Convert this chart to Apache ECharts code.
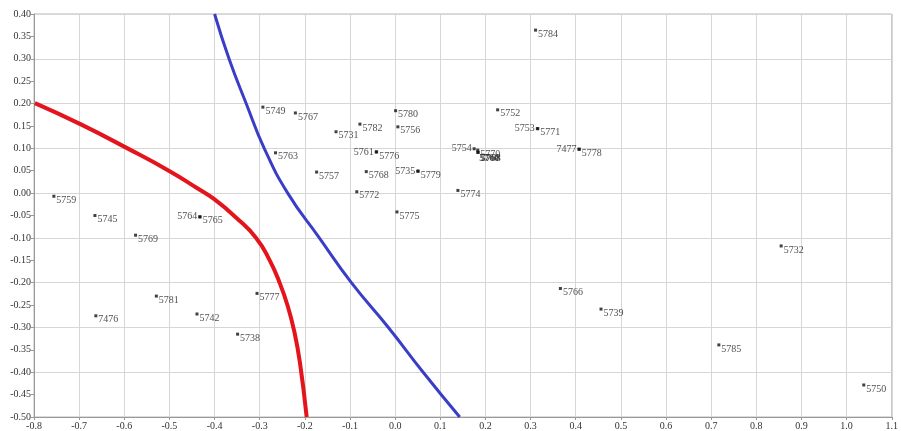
<!DOCTYPE html>
<html><head><meta charset="utf-8">
<script src="https://cdn.jsdelivr.net/npm/echarts@6/dist/echarts.min.js"></script>
<style>html,body{margin:0;padding:0;background:#fff}#c{width:901px;height:431px}</style>
</head><body><div id="c"></div>
<script>
// Scatter points
const pointNames = ['5784','5749','5767','5763','5731','5782','5780','5756','5761','5776','5757','5768','5735','5779','5772','5775','5774','5754','5770','5760','5768','5752','5753','5771','7477','5778','5759','5745','5764','5765','5769','5781','5777','7476','5742','5738','5766','5739','5732','5785','5750'];
const pointX = [0.311,-0.293,-0.221,-0.265,-0.131,-0.078,0.001,0.006,-0.042,-0.041,-0.174,-0.064,0.050,0.051,-0.085,0.004,0.139,0.175,0.183,0.183,0.184,0.227,0.315,0.316,0.407,0.408,-0.756,-0.665,-0.433,-0.432,-0.575,-0.529,-0.306,-0.663,-0.439,-0.349,0.366,0.456,0.855,0.717,1.038];
const pointY = [0.364,0.192,0.179,0.090,0.137,0.154,0.184,0.148,0.092,0.092,0.047,0.048,0.049,0.049,0.003,-0.042,0.006,0.099,0.096,0.091,0.091,0.186,0.144,0.144,0.098,0.098,-0.007,-0.050,-0.053,-0.053,-0.094,-0.230,-0.224,-0.274,-0.270,-0.315,-0.213,-0.259,-0.118,-0.339,-0.4285];
const labelSide = ['r','r','r','r','r','r','r','r','l','r','r','r','l','r','r','r','r','l','r','r','r','r','l','r','l','r','r','r','l','r','r','r','r','r','r','r','r','r','r','r','r'];

// Curves
const redX = [-0.798,-0.695,-0.595,-0.4995,-0.440,-0.400,-0.352,-0.308,-0.279,-0.256,-0.238,-0.223,-0.211,-0.196];
const redY = [0.201,0.153,0.101,0.049,0.012,-0.014,-0.055,-0.100,-0.148,-0.200,-0.252,-0.311,-0.378,-0.5];
const blueX = [-0.400,-0.368,-0.330,-0.290,-0.238,-0.168,-0.097,-0.015,0.062,0.143];
const blueY = [0.40,0.30,0.20,0.10,0.0,-0.10,-0.20,-0.30,-0.40,-0.50];

const font = 'Liberation Serif';
const scatterData = pointNames.map((n,i)=>{
  const left = labelSide[i]==='l';
  const extra = (n==='5760'||(n==='5768'&&i===20));
  return {
    value:[pointX[i],pointY[i]], name:n,
    label: left ? {position:'left', distance:1, offset:[0,0]} :
           (extra ? {position:'right', distance:0, offset:[i===20?1:0,6], fontWeight:'bold'} : {position:'right', distance:1, offset:[0,4]})
  };
});

const chart = echarts.init(document.getElementById('c'), null, {renderer:'canvas'});
chart.setOption({
  animation:false,
  backgroundColor:'#fff',
  grid:{left:34,right:7,top:14,bottom:13,show:true,borderColor:'#b8b8b8',borderWidth:1},
  xAxis:{type:'value',min:-0.8,max:1.1,interval:0.1,
    axisLine:{show:true,onZero:false,lineStyle:{color:'#999',width:1}},
    axisTick:{show:true,length:3,lineStyle:{color:'#999'}},
    axisLabel:{fontFamily:font,fontSize:10,color:'#333',margin:4,formatter:v=>v.toFixed(1),showMinLabel:true,showMaxLabel:true},
    splitLine:{show:true,lineStyle:{color:'#d6d6d6',width:1}}},
  yAxis:{type:'value',min:-0.5,max:0.4,interval:0.05,
    axisLine:{show:true,onZero:false,lineStyle:{color:'#999',width:1}},
    axisTick:{show:true,length:3,lineStyle:{color:'#999'}},
    axisLabel:{fontFamily:font,fontSize:10,color:'#333',margin:3,formatter:v=>v.toFixed(2),showMinLabel:true,showMaxLabel:true},
    splitLine:{show:true,lineStyle:{color:['#d6d6d6','rgba(0,0,0,0)'],width:1}}},
  series:[
    {type:'line',data:redX.map((x,i)=>[x,redY[i]]),smooth:0.5,showSymbol:false,
     lineStyle:{color:'#e3141c',width:4},z:3},
    {type:'line',data:blueX.map((x,i)=>[x,blueY[i]]),smooth:0.5,showSymbol:false,
     lineStyle:{color:'#3a3ec6',width:3},z:3},
    {type:'scatter',data:scatterData,symbol:'rect',symbolSize:3,
     itemStyle:{color:'#111'},z:4,
     label:{show:true,formatter:p=>p.name,fontFamily:font,fontSize:10,color:'#222'}}
  ]
});
</script></body></html>
